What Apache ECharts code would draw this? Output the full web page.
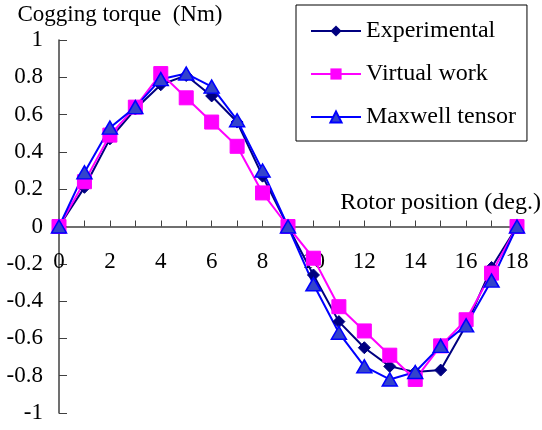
<!DOCTYPE html>
<html>
<head>
<meta charset="utf-8">
<script src="https://cdn.jsdelivr.net/npm/echarts@6/dist/echarts.min.js"></script>
<style>html,body{margin:0;padding:0;background:#fff}#c{width:542px;height:430px}</style>
</head>
<body>
<div id="c"></div>
<script>
const positions = [0,1,2,3,4,5,6,7,8,9,10,11,12,13,14,15,16,17,18];
const experimental = [0,0.21,0.47,0.63,0.76,0.81,0.70,0.56,0.27,0,-0.26,-0.51,-0.65,-0.75,-0.78,-0.77,-0.53,-0.22,0];
const virtualWork = [0,0.24,0.49,0.64,0.82,0.69,0.56,0.43,0.18,0,-0.17,-0.43,-0.56,-0.69,-0.82,-0.64,-0.50,-0.25,0];
const maxwell = [0,0.29,0.53,0.64,0.79,0.82,0.75,0.57,0.30,0,-0.31,-0.57,-0.75,-0.82,-0.78,-0.64,-0.53,-0.29,0];
const yTicks = [-1,-0.8,-0.6,-0.4,-0.2,0,0.2,0.4,0.6,0.8,1];

const font = 'Liberation Serif';
const pair = arr => positions.map((p,i)=>[p,arr[i]]);
const chart = echarts.init(document.getElementById('c'));
chart.setOption({
  animation: false,
  backgroundColor: '#fff',
  textStyle: {fontFamily: font},
  grid: {left: 59, right: 25, top: 40, bottom: 17, outerBoundsMode: 'none', containLabel: false},
  legend: {
    orient: 'vertical', left: 296, top: 5,
    padding: [14, 11, 12, 14],
    borderColor: '#000', borderWidth: 1,
    itemWidth: 50, itemHeight: 14, itemGap: 19,
    textStyle: {fontFamily: font, fontSize: 24, color: '#000'},
    data: ['Experimental', 'Virtual work', 'Maxwell tensor']
  },
  xAxis: {
    type: 'value', min: 0, max: 18, interval: 1,
    position: 'bottom', offset: -186.5,
    name: 'Rotor position (deg.)',
    nameLocation: 'end', nameGap: 24,
    nameTextStyle: {fontFamily: font, fontSize: 24, color: '#000', align: 'right', verticalAlign: 'bottom', padding: [0,0,12,0]},
    axisLine: {onZero: false, lineStyle: {color: '#404040', width: 1.5}},
    axisTick: {inside: true, length: 6, lineStyle: {color: '#404040'}},
    axisLabel: {fontFamily: font, fontSize: 23, color: '#000', margin: 24,
      formatter: v => (v % 2 === 0 ? String(v) : '')},
    splitLine: {show: false}
  },
  yAxis: {
    type: 'value', min: -1, max: 1, interval: 0.2,
    name: 'Cogging torque  (Nm)',
    nameLocation: 'end', nameGap: 14,
    nameTextStyle: {fontFamily: font, fontSize: 23, color: '#000', align: 'center', padding: [0,0,0,122]},
    axisLine: {show: true, onZero: false, lineStyle: {color: '#404040', width: 1.5}},
    axisTick: {show: true, inside: true, length: 8, lineStyle: {color: '#404040'}},
    axisLabel: {fontFamily: font, fontSize: 23, color: '#000', margin: 16,
      formatter: v => { const r = Math.round(v*10)/10; return yTicks.includes(r) ? String(r) : ''; }},
    splitLine: {show: false}
  },
  series: [
    {name: 'Experimental', type: 'line', data: pair(experimental),
      symbol: 'diamond', symbolSize: [12,12],
      lineStyle: {color: '#000080', width: 2},
      itemStyle: {color: '#000080', borderColor: '#000080'}},
    {name: 'Virtual work', type: 'line', data: pair(virtualWork),
      symbol: 'rect', symbolSize: 14,
      lineStyle: {color: '#ff00ff', width: 2},
      itemStyle: {color: '#ff00ff', borderColor: '#ff00ff'}},
    {name: 'Maxwell tensor', type: 'line', data: pair(maxwell),
      symbol: 'triangle', symbolSize: [15,13],
      lineStyle: {color: '#0000ff', width: 2},
      itemStyle: {color: '#3344cc', borderColor: '#0000ff', borderWidth: 1.5}}
  ]
});
</script>
</body>
</html>
